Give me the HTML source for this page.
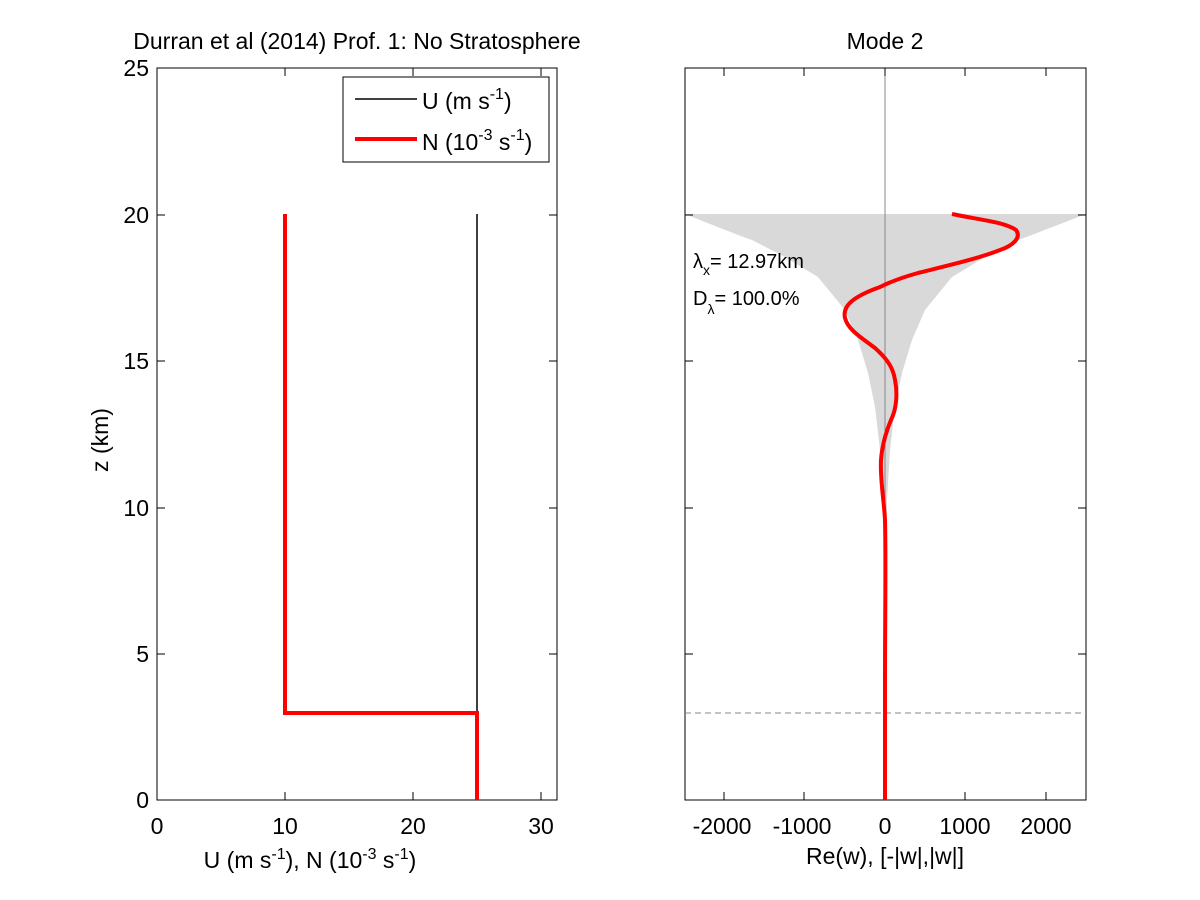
<!DOCTYPE html>
<html><head><meta charset="utf-8"><style>body{margin:0;background:#fff}svg{display:block}text{font-family:"Liberation Sans",sans-serif;fill:#000}</style></head><body>
<svg width="1200" height="900" xmlns="http://www.w3.org/2000/svg">
<rect width="1200" height="900" fill="#fff"/>
<!-- Left axes -->
<rect x="157" y="68" width="400" height="732" fill="#fff" stroke="#000" stroke-width="1"/>
<g stroke="#000" stroke-width="1">
<line x1="157" y1="654" x2="165" y2="654"/><line x1="557" y1="654" x2="549" y2="654"/>
<line x1="157" y1="508" x2="165" y2="508"/><line x1="557" y1="508" x2="549" y2="508"/>
<line x1="157" y1="361" x2="165" y2="361"/><line x1="557" y1="361" x2="549" y2="361"/>
<line x1="157" y1="215" x2="165" y2="215"/><line x1="557" y1="215" x2="549" y2="215"/>
<line x1="285" y1="800" x2="285" y2="792"/><line x1="285" y1="68" x2="285" y2="76"/>
<line x1="413" y1="800" x2="413" y2="792"/><line x1="413" y1="68" x2="413" y2="76"/>
<line x1="541" y1="800" x2="541" y2="792"/><line x1="541" y1="68" x2="541" y2="76"/>
</g>
<line x1="477" y1="800" x2="477" y2="214" stroke="#000" stroke-width="1.5"/>
<polyline points="477,800 477,713 285,713 285,214" fill="none" stroke="#f00" stroke-width="4"/>
<g font-size="23" text-anchor="end">
<text x="149" y="808">0</text><text x="149" y="662">5</text><text x="149" y="516">10</text><text x="149" y="369">15</text><text x="149" y="223">20</text><text x="149" y="76">25</text>
</g>
<g font-size="23" text-anchor="middle">
<text x="157" y="834">0</text><text x="285" y="834">10</text><text x="413" y="834">20</text><text x="541" y="834">30</text>
<text x="357" y="49">Durran et al (2014) Prof. 1: No Stratosphere</text>
<text x="310" y="868">U (m s<tspan dy="-9" font-size="16">-1</tspan><tspan dy="9">), N (10</tspan><tspan dy="-9" font-size="16">-3</tspan><tspan dy="9"> s</tspan><tspan dy="-9" font-size="16">-1</tspan><tspan dy="9">)</tspan></text>
<text transform="translate(108,440) rotate(-90)">z (km)</text>
</g>
<!-- legend -->
<rect x="343" y="77" width="206" height="85" fill="#fff" stroke="#000" stroke-width="1"/>
<line x1="355" y1="99" x2="417" y2="99" stroke="#000" stroke-width="1.5"/>
<line x1="355" y1="139" x2="417" y2="139" stroke="#f00" stroke-width="4"/>
<text x="422" y="109" font-size="23">U (m s<tspan dy="-10" font-size="16">-1</tspan><tspan dy="10">)</tspan></text>
<text x="422" y="150" font-size="23">N (10<tspan dy="-10" font-size="16">-3</tspan><tspan dy="10"> s</tspan><tspan dy="-10" font-size="16">-1</tspan><tspan dy="10">)</tspan></text>
<!-- Right axes -->
<rect x="685" y="68" width="401" height="732" fill="#fff" stroke="#000" stroke-width="1"/>
<path d="M685,214 L1086,214 C1060,224 1035,234 1018,240 L985,257 L952,277 L925,310 L912,340 L902,373 L895,407 L890,450 L887,500 L886,560 L884,560 L883,500 L880,450 L875,407 L868,373 L858,340 L845,310 L818,277 L785,257 L752,240 C735,234 710,224 685,214 Z" fill="#d9d9d9"/>
<line x1="885" y1="68" x2="885" y2="800" stroke="#888" stroke-width="1"/>
<line x1="685" y1="713" x2="1086" y2="713" stroke="#888" stroke-width="1" stroke-dasharray="6,4"/>
<g stroke="#000" stroke-width="1">
<line x1="685" y1="654" x2="693" y2="654"/><line x1="1086" y1="654" x2="1078" y2="654"/>
<line x1="685" y1="508" x2="693" y2="508"/><line x1="1086" y1="508" x2="1078" y2="508"/>
<line x1="685" y1="361" x2="693" y2="361"/><line x1="1086" y1="361" x2="1078" y2="361"/>
<line x1="685" y1="215" x2="693" y2="215"/><line x1="1086" y1="215" x2="1078" y2="215"/>
<line x1="724" y1="800" x2="724" y2="792"/><line x1="724" y1="68" x2="724" y2="76"/>
<line x1="804" y1="800" x2="804" y2="792"/><line x1="804" y1="68" x2="804" y2="76"/>
<line x1="885" y1="800" x2="885" y2="792"/><line x1="885" y1="68" x2="885" y2="76"/>
<line x1="965" y1="800" x2="965" y2="792"/><line x1="965" y1="68" x2="965" y2="76"/>
<line x1="1046" y1="800" x2="1046" y2="792"/><line x1="1046" y1="68" x2="1046" y2="76"/>
</g>
<path d="M952,214 C980,220 1005,222 1016,230 C1022,238 1012,246 1000,250 C980,258 950,265 918,273 C900,278 890,282 880,287 C855,296 842,305 845,318 C848,330 862,338 875,348 C885,357 893,366 895,380 C898,395 896,410 891,420 C886,432 882,445 881,460 C880,480 884,500 885,520 C886,560 885,620 885,680 L885,800" fill="none" stroke="#f00" stroke-width="4"/>
<text x="693" y="268" font-size="20">λ<tspan dy="7" font-size="14">x</tspan><tspan dy="-7">= 12.97km</tspan></text>
<text x="693" y="305" font-size="20">D<tspan dy="9" font-size="14">λ</tspan><tspan dy="-9">= 100.0%</tspan></text>
<g font-size="23" text-anchor="middle">
<text x="722" y="834">-2000</text><text x="802" y="834">-1000</text><text x="885" y="834">0</text><text x="965" y="834">1000</text><text x="1046" y="834">2000</text>
<text x="885" y="49">Mode 2</text>
<text x="885" y="864">Re(w), [-|w|,|w|]</text>
</g>
</svg>
</body></html>
